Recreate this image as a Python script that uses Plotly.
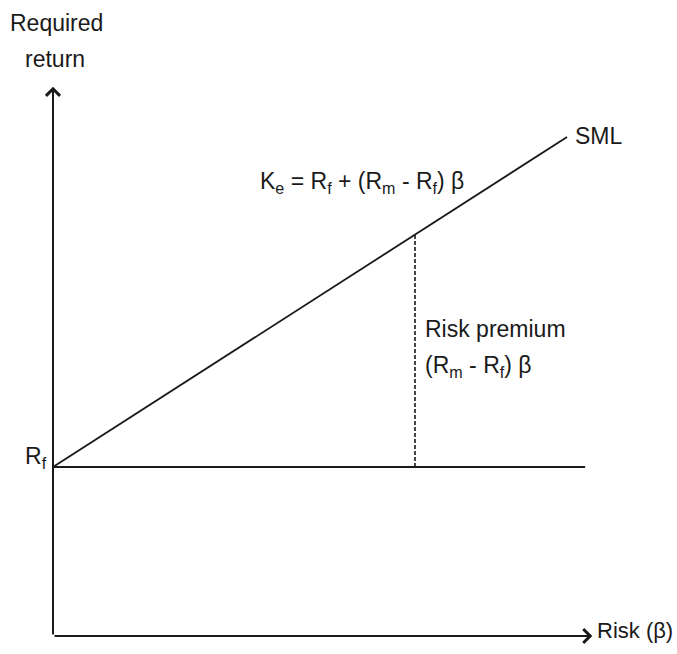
import plotly.graph_objects as go

# Security market line inputs
risk_free = 4.0          # R_f (%)
market_return = 9.5      # R_m (%)
market_beta = 1.0        # beta at which the risk premium is marked
sml_beta_end = 1.42      # last beta drawn on the SML
rf_line_end = 1.47       # extent of the risk-free reference line
x_axis_end = 1.49        # beta at the x-axis arrow tip
y_axis_end = 13.0        # return at the y-axis arrow tip

premium = market_return - risk_free
sml_x = [0.0, sml_beta_end]
sml_y = [risk_free + premium * b for b in sml_x]

INK = "#1a1a1a"
FONT = "Liberation Sans, Arial, sans-serif"
FS = 23
W, H = 677, 654


def px(x):
    return x / W


def py(y):
    return 1 - y / H


def label(x, y, text, xanchor="left", size=FS):
    return dict(x=px(x), y=py(y), xref="paper", yref="paper", xanchor=xanchor,
                yanchor="middle", showarrow=False, text=text,
                font=dict(size=size, color=INK, family=FONT))


fig = go.Figure()

# SML
fig.add_trace(go.Scatter(x=sml_x, y=sml_y, mode="lines",
                         line=dict(color=INK, width=1.8), hoverinfo="skip"))
# risk-free level
fig.add_trace(go.Scatter(x=[0.0, rf_line_end], y=[risk_free, risk_free], mode="lines",
                         line=dict(color=INK, width=2), hoverinfo="skip"))
# risk premium at the market beta
fig.add_trace(go.Scatter(x=[market_beta, market_beta],
                         y=[risk_free, risk_free + premium * market_beta], mode="lines",
                         line=dict(color=INK, width=1.6, dash="4px,2px"), hoverinfo="skip"))

annotations = [
    # axes with open arrowheads
    dict(x=0, y=y_axis_end, ax=0, ay=0, xref="x", yref="y", axref="x", ayref="y",
         showarrow=True, arrowhead=4, arrowsize=1.35, arrowwidth=2, arrowcolor=INK, text=""),
    dict(x=x_axis_end, y=0, ax=0, ay=0, xref="x", yref="y", axref="x", ayref="y",
         showarrow=True, arrowhead=4, arrowsize=1.35, arrowwidth=2, arrowcolor=INK, text=""),
    # axis titles
    label(56, 23, "Required", xanchor="center"),
    label(55, 59, "return", xanchor="center"),
    label(595, 630, "Risk (β)", size=22),
    # R_f at the origin of the SML
    label(49, 458, "R<sub>f</sub>", xanchor="right"),
    # SML label
    label(573, 136, "SML"),
    # SML equation
    label(258, 182, "K<sub>e</sub> = R<sub>f</sub> + (R<sub>m</sub> - R<sub>f</sub>) β"),
    # risk premium label
    label(423, 329, "Risk premium"),
    label(423, 366, "(R<sub>m</sub> - R<sub>f</sub>) β"),
]

fig.update_layout(
    width=W, height=H,
    margin=dict(l=0, r=0, t=0, b=0),
    paper_bgcolor="white", plot_bgcolor="white",
    showlegend=False,
    xaxis=dict(range=[-53 / 362, 624 / 362], visible=False, fixedrange=True),
    yaxis=dict(range=[-18 / 42.25, 636 / 42.25], visible=False, fixedrange=True),
    annotations=annotations,
)

fig.write_html("out.html")
